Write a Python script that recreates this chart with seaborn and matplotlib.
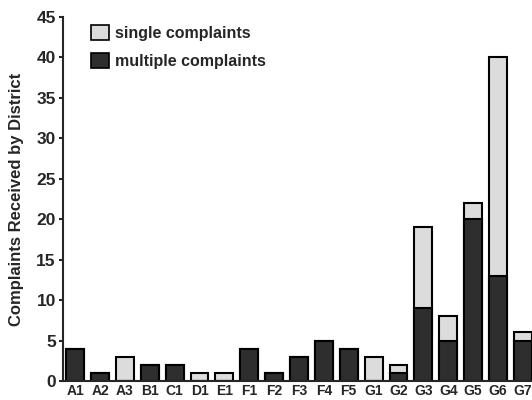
import numpy as np
import pandas as pd
import matplotlib
matplotlib.use("Agg")
import matplotlib.pyplot as plt
import seaborn as sns
from matplotlib.patches import Patch

districts = ["A1", "A2", "A3", "B1", "C1", "D1", "E1", "F1", "F2", "F3",
             "F4", "F5", "G1", "G2", "G3", "G4", "G5", "G6", "G7"]
multiple = [4, 1, 0, 2, 2, 0, 0, 4, 1, 3, 5, 4, 0, 1, 9, 5, 20, 13, 5]
single = [0, 0, 3, 0, 0, 1, 1, 0, 0, 0, 0, 0, 3, 1, 10, 3, 2, 27, 1]

df = pd.DataFrame({"district": districts, "multiple": multiple, "single": single})
df["total"] = df["multiple"] + df["single"]

sns.set_style("ticks")
plt.rcParams["font.family"] = ["Liberation Sans", "DejaVu Sans"]
plt.rcParams["font.weight"] = "bold"

light = "#dcdcdc"
dark = "#2e2e2e"

fig = plt.figure(figsize=(5.32, 4.0), dpi=100)
ax = fig.add_axes([0.118, 0.0475, 0.882, 0.91])

# total first (light), then multiple on top (dark)
sns.barplot(data=df, x="district", y="total", color=light, edgecolor="black",
            linewidth=1.5, width=0.72, saturation=1, ax=ax)
sns.barplot(data=df, x="district", y="multiple", color=dark, edgecolor="black",
            linewidth=1.5, width=0.72, saturation=1, ax=ax)

ax.set_ylim(0, 45)
ax.set_yticks(range(0, 46, 5))
ax.set_xlim(-0.5, 18.37)
ax.set_xlabel("")
ax.set_ylabel("Complaints Received by District", fontsize=12, fontweight="bold", labelpad=9)
ax.tick_params(axis="y", labelsize=12.5, width=1.5, length=3, pad=2)
ax.tick_params(axis="x", labelsize=10, length=0, pad=2)
for lab in ax.get_xticklabels() + ax.get_yticklabels():
    lab.set_fontweight("bold")
sns.despine(ax=ax)
ax.spines["left"].set_linewidth(1.5)
ax.spines["bottom"].set_linewidth(1.5)

handles = [Patch(facecolor=light, edgecolor="black", linewidth=1.2, label="single complaints"),
           Patch(facecolor=dark, edgecolor="black", linewidth=1.2, label="multiple complaints")]
leg = ax.legend(handles=handles, loc="upper left", bbox_to_anchor=(0.03, 1.018), frameon=False,
                fontsize=11.5, handlelength=1.1, handleheight=1.1, labelspacing=0.75,
                handletextpad=0.4)
for t in leg.get_texts():
    t.set_fontweight("bold")

fig.savefig("out.png", dpi=100)
